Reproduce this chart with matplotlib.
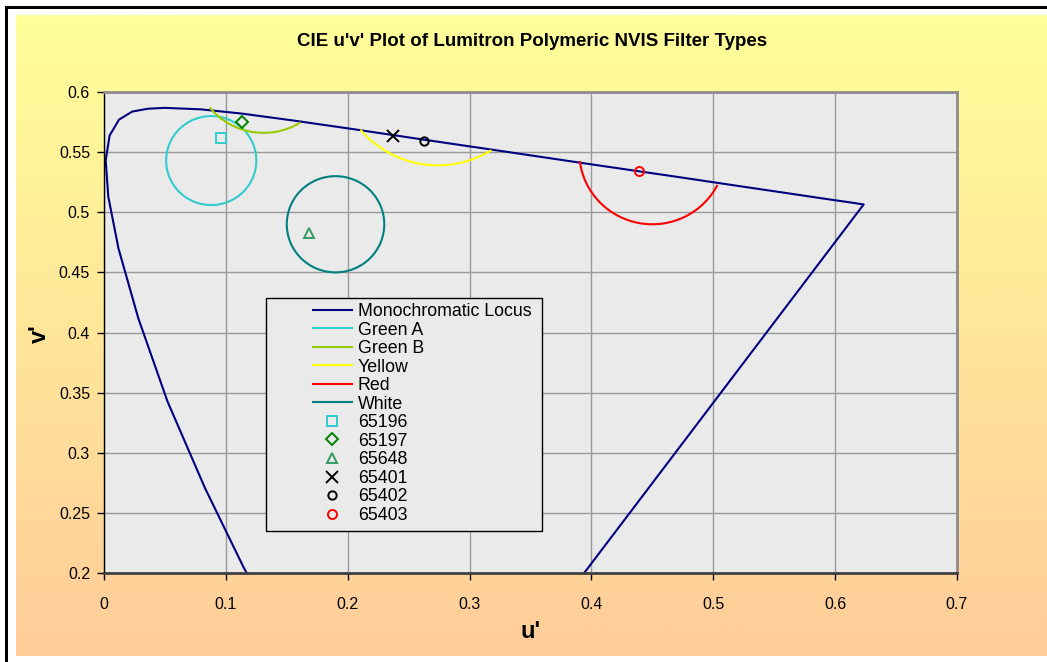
import numpy as np
import matplotlib
matplotlib.use('Agg')
import matplotlib.pyplot as plt
from matplotlib.patches import Arc, Rectangle
from matplotlib.lines import Line2D
from matplotlib.ticker import FuncFormatter

plt.rcParams['font.family'] = ['Liberation Sans', 'DejaVu Sans']

# spectral locus u'v' (380 .. 700 nm), closed back to 380 nm by the purple line
locus_u = [0.2568, 0.2557, 0.2522, 0.2461, 0.2347, 0.2161, 0.2033, 0.1877, 0.1690,
           0.1441, 0.1147, 0.0828, 0.0521, 0.0282, 0.0119, 0.0035, 0.0014, 0.0046,
           0.0123, 0.0231, 0.0360, 0.0501, 0.0792, 0.1127, 0.1531, 0.2026, 0.2623,
           0.3315, 0.4035, 0.4692, 0.5203, 0.5565, 0.5830, 0.6005, 0.6109, 0.6162,
           0.6199, 0.6234, 0.2568]
locus_v = [0.0166, 0.0159, 0.0169, 0.0226, 0.0350, 0.0549, 0.0688, 0.0871, 0.1119,
           0.1510, 0.2044, 0.2708, 0.3427, 0.4117, 0.4698, 0.5131, 0.5432, 0.5638,
           0.5770, 0.5837, 0.5861, 0.5868, 0.5856, 0.5821, 0.5766, 0.5694, 0.5604,
           0.5501, 0.5393, 0.5296, 0.5219, 0.5165, 0.5125, 0.5099, 0.5084, 0.5076,
           0.5070, 0.5065, 0.0166]

# NVIS colour regions (circle centre, radius, part of the circle that is drawn)
region_names = ['Green A', 'Green B', 'Yellow', 'Red', 'White']
region_u = [0.088, 0.131, 0.274, 0.450, 0.190]
region_v = [0.543, 0.623, 0.622, 0.550, 0.490]
region_r = [0.037, 0.057, 0.083, 0.060, 0.040]
region_start = [0, 219, 220, 187, 0]
region_end = [360, 302, 302, 333, 360]
region_colors = ['#33CCCC', '#99CC00', '#FFFF00', '#FF0000', '#008080']

# measured filters
sample_names = ['65196', '65197', '65648', '65401', '65402', '65403']
sample_u = [0.096, 0.113, 0.168, 0.237, 0.263, 0.439]
sample_v = [0.562, 0.575, 0.483, 0.563, 0.559, 0.534]
sample_markers = ['s', 'D', '^', 'x', 'o', 'o']
sample_sizes = [7, 6, 7.5, 8, 6, 6.5]
sample_colors = ['#33CCCC', '#008000', '#339966', '#000000', '#000000', '#FF0000']

W, H = 1047, 662
fig = plt.figure(figsize=(W / 100, H / 100), dpi=100)
fig.patch.set_facecolor('white')

# gradient chart area + black frame lines
bg = fig.add_axes([16 / W, 6 / H, (W - 16) / W, 641 / H])
bg.set_zorder(-5)
grad = np.linspace(0, 1, 256).reshape(-1, 1)
top = np.array([255, 255, 153]) / 255
bot = np.array([255, 204, 153]) / 255
img = top[None, None, :] * (1 - grad[:, :, None]) + bot[None, None, :] * grad[:, :, None]
bg.imshow(img, aspect='auto', extent=[0, 1, 0, 1])
bg.axis('off')
fig.add_artist(Rectangle((5 / W, 0), 3 / W, (H - 6) / H, transform=fig.transFigure,
                         facecolor='black', edgecolor='none'))
fig.add_artist(Rectangle((5 / W, (H - 9) / H), 1, 3 / H, transform=fig.transFigure,
                         facecolor='black', edgecolor='none'))

ax = fig.add_axes([104 / W, (H - 573) / H, (957 - 104) / W, (573 - 92) / H])
ax.set_facecolor('#EAEAEA')

handles = []
ln, = ax.plot(locus_u, locus_v, color='#000080', lw=1.5, label='Monochromatic Locus')
handles.append(ln)

for i in range(len(region_names)):
    arc = Arc((region_u[i], region_v[i]), 2 * region_r[i], 2 * region_r[i],
              theta1=region_start[i], theta2=region_end[i],
              color=region_colors[i], lw=1.5, zorder=2)
    ax.add_patch(arc)
    handles.append(Line2D([], [], color=region_colors[i], lw=1.5, label=region_names[i]))

for i in range(len(sample_names)):
    m, = ax.plot(sample_u[i], sample_v[i], ls='none', marker=sample_markers[i],
                 ms=sample_sizes[i], mfc='none', mec=sample_colors[i], mew=1.4,
                 label=sample_names[i], zorder=3)
    handles.append(m)

ax.set_xlim(0, 0.7)
ax.set_ylim(0.2, 0.6)
ax.set_xticks(np.arange(0, 0.71, 0.1))
ax.set_yticks(np.arange(0.2, 0.601, 0.05))
fmt = FuncFormatter(lambda v, p: '%g' % round(v, 3))
ax.xaxis.set_major_formatter(fmt)
ax.yaxis.set_major_formatter(fmt)
ax.tick_params(direction='out', length=5, width=1, labelsize=11.5, color='black')
ax.tick_params(axis='x', pad=12)
ax.tick_params(axis='y', pad=5)
ax.grid(True, color='#9a9a9a', lw=1.0)
ax.set_axisbelow(True)
ax.spines['top'].set_color('#8c8c8c')
ax.spines['right'].set_color('#8c8c8c')
ax.spines['top'].set_linewidth(2)
ax.spines['right'].set_linewidth(2)
ax.spines['bottom'].set_color('#404040')
ax.spines['bottom'].set_linewidth(2)
ax.spines['left'].set_color('black')
ax.spines['left'].set_linewidth(1)

# legend box
ax.add_patch(Rectangle((266 / W, (H - 531) / H), 276 / W, 233 / H, transform=fig.transFigure,
                       facecolor='#EAEAEA', edgecolor='black', lw=1, zorder=4, clip_on=False))
leg = ax.legend(handles=handles, loc='upper left', bbox_to_anchor=(313 / W, 1 - 303 / H),
                bbox_transform=fig.transFigure, frameon=False, fontsize=12.8,
                labelspacing=0.086, handlelength=2.19, handletextpad=0.34, borderpad=0,
                borderaxespad=0, numpoints=1)
leg.set_zorder(5)

fig.text(0.508, 1 - 42 / H, "CIE u'v' Plot of Lumitron Polymeric NVIS Filter Types",
         ha='center', va='center', fontsize=13.5, fontweight='bold')
fig.text(531 / W, 1 - 632 / H, "u'", ha='center', va='center', fontsize=17, fontweight='bold')
fig.text(39 / W, 1 - 334 / H, "v'", ha='center', va='center', fontsize=17,
         fontweight='bold', rotation=90)

fig.savefig('out.png', dpi=100)
